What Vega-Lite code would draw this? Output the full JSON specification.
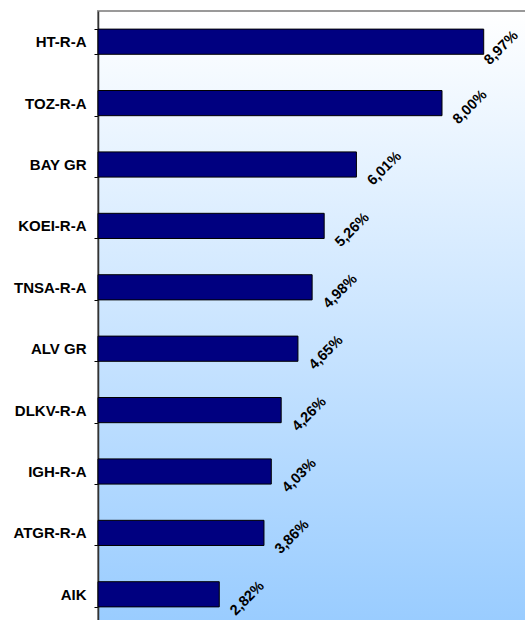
{
  "$schema": "https://vega.github.io/schema/vega-lite/v6.json",
  "width": 430,
  "height": 614,
  "autosize": {"type": "none"},
  "padding": {"left": 98, "top": 11, "right": 0, "bottom": 0},
  "background": "#ffffff",
  "config": {
    "font": "Liberation Sans",
    "locale": {"number": {"decimal": ",", "thousands": ".", "grouping": [3], "currency": ["", "€"]}},
    "view": {
      "fill": {"gradient": "linear", "x1": 0, "y1": 0, "x2": 0, "y2": 1, "stops": [{"offset": 0, "color": "#ffffff"}, {"offset": 1, "color": "#99ccff"}]},
      "stroke": "#999999",
      "strokeWidth": 2
    }
  },
  "data": {
    "values": [
      {"ticker": "HT-R-A", "share": 0.0897},
      {"ticker": "TOZ-R-A", "share": 0.0800},
      {"ticker": "BAY GR", "share": 0.0601},
      {"ticker": "KOEI-R-A", "share": 0.0526},
      {"ticker": "TNSA-R-A", "share": 0.0498},
      {"ticker": "ALV GR", "share": 0.0465},
      {"ticker": "DLKV-R-A", "share": 0.0426},
      {"ticker": "IGH-R-A", "share": 0.0403},
      {"ticker": "ATGR-R-A", "share": 0.0386},
      {"ticker": "AIK", "share": 0.0282}
    ]
  },
  "encoding": {
    "y": {
      "field": "ticker",
      "type": "nominal",
      "sort": null,
      "scale": {"paddingInner": 0.59, "paddingOuter": 0.295},
      "axis": {
        "title": null,
        "grid": false,
        "domainColor": "#333333",
        "domainWidth": 1.5,
        "tickColor": "#000000",
        "tickSize": 4,
        "tickBand": "extent",
        "labelFontSize": 15,
        "labelFontWeight": "bold",
        "labelColor": "#000000",
        "labelFont": "Liberation Sans",
        "labelPadding": 8
      }
    },
    "x": {
      "field": "share",
      "type": "quantitative",
      "scale": {"domain": [0, 0.1]},
      "axis": null
    }
  },
  "layer": [
    {"mark": {"type": "bar", "fill": "#000080", "stroke": "#000000", "strokeWidth": 1}},
    {
      "transform": [{"filter": "datum.share < 0.085"}],
      "mark": {"type": "text", "angle": 315, "align": "center", "baseline": "middle", "dx": 17, "dy": 23, "fontWeight": "bold", "fontSize": 14.5, "font": "Liberation Sans", "color": "#000000"},
      "encoding": {"text": {"field": "share", "type": "quantitative", "format": ".2%"}}
    },
    {
      "transform": [{"filter": "datum.share >= 0.085"}],
      "mark": {"type": "text", "angle": 315, "align": "center", "baseline": "middle", "dx": 8, "dy": 17, "fontWeight": "bold", "fontSize": 14.5, "font": "Liberation Sans", "color": "#000000"},
      "encoding": {"text": {"field": "share", "type": "quantitative", "format": ".2%"}}
    }
  ]
}
